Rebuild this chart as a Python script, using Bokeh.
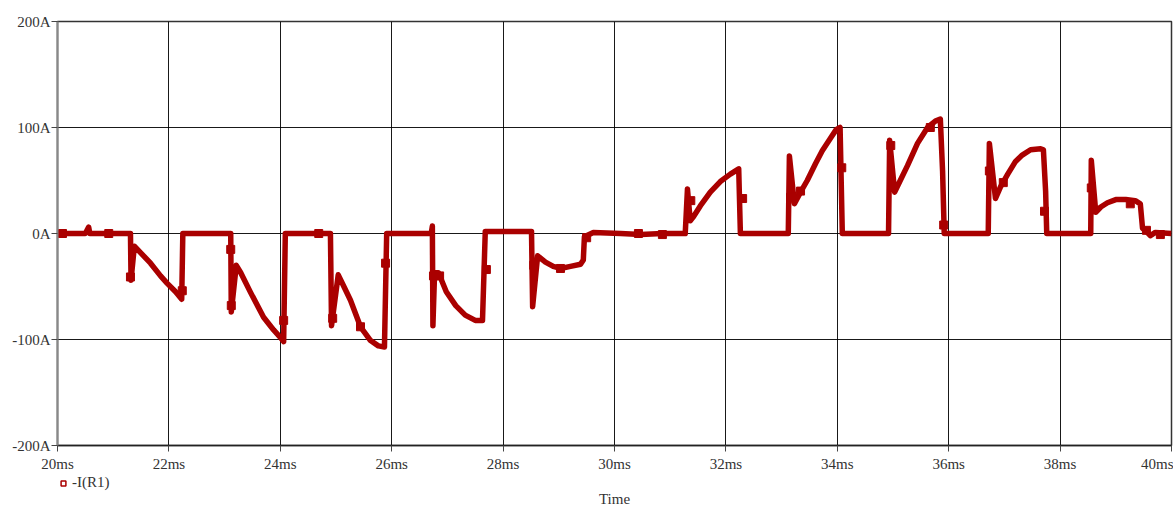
from bokeh.plotting import figure
from bokeh.layouts import column
from bokeh.models import FixedTicker, Range1d, Legend, LegendItem
from bokeh.core.properties import value
from bokeh.embed import file_html
from bokeh.resources import INLINE

# Transient current through R1, time in ms, current in A
t_ms = [
    20.00, 20.50, 20.56, 20.58, 21.31,
    21.32, 21.38, 21.49, 21.67, 21.85, 21.97, 22.12, 22.23, 22.25, 23.11,
    23.12, 23.21, 23.29, 23.47, 23.70, 23.88, 24.00, 24.06, 24.09, 24.90,
    24.92, 25.04, 25.15, 25.26, 25.44, 25.62, 25.76, 25.87, 25.91, 26.71,
    26.73, 26.74, 26.77, 26.84, 26.98, 27.15, 27.32, 27.50, 27.63, 27.68, 28.51,
    28.53, 28.62, 28.76, 28.90, 29.03, 29.21, 29.39, 29.44, 29.46, 29.62,
    30.11, 30.47, 30.86, 31.27,
    31.31, 31.36, 31.42, 31.54, 31.72, 31.90, 32.08, 32.23, 32.26, 33.12,
    33.14, 33.23, 33.34, 33.46, 33.61, 33.73, 33.88, 33.98, 34.05, 34.09, 34.92,
    34.94, 35.03, 35.13, 35.26, 35.44, 35.62, 35.76, 35.85, 35.89, 35.92, 36.71,
    36.73, 36.84, 36.93, 37.06, 37.20, 37.32, 37.47, 37.65, 37.70, 37.74, 37.76, 38.55,
    38.56, 38.64, 38.73, 38.85, 39.00, 39.18, 39.35, 39.44, 39.48, 39.53, 39.62, 39.71, 40.00,
]
i_amp = [
    0, 0, 6, 0, 0,
    -44, -12, -18, -28, -40, -47, -55, -62, 0, 0,
    -74, -30, -37, -56, -79, -91, -98, -102, 0, 0,
    -87, -39, -51, -63, -88, -101, -106, -107, 0, 0,
    7, -87, -37, -37, -55, -68, -77, -82, -82, 2, 2,
    -69, -21, -27, -31, -33, -31, -29, -25, -3, 1,
    0, -1, 0, 0,
    42, 12, 16, 26, 39, 49, 56, 61, 0, 0,
    73, 28, 39, 50, 66, 78, 90, 98, 100, 0, 0,
    88, 39, 50, 64, 85, 100, 106, 108, 59, 0, 0,
    85, 33, 44, 56, 68, 74, 79, 80, 79, 40, 0, 0,
    69, 20, 25, 29, 32, 32, 31, 28, 5, 3, -2, 1, 0,
]

# Sample markers drawn along the trace
marker_ms = [20.09, 20.92, 21.31, 22.24, 23.11, 23.12, 24.06, 24.69, 24.94, 25.44,
             25.89, 26.75, 26.86, 27.70, 28.55, 29.03, 29.50, 30.43, 30.86, 31.37,
             32.30, 33.16, 33.34, 34.08, 34.96, 35.67, 35.91, 36.73, 36.98, 37.72,
             38.56, 39.26, 39.55, 39.80]
marker_a = [0, 0, -41, -54, -15, -68, -82, 0, -80, -88,
            -28, -40, -40, -34, -30, -33, -4, 0, -1, 31,
            33, 34, 40, 62, 83, 100, 8, 59, 48, 21,
            43, 28, 3, -1]

x_ticks = [20, 22, 24, 26, 28, 30, 32, 34, 36, 38, 40]
x_tick_labels = ["20ms", "22ms", "24ms", "26ms", "28ms", "30ms",
                 "32ms", "34ms", "36ms", "38ms", "40ms"]
y_ticks = [-200, -100, 0, 100, 200]
y_tick_labels = ["-200A", "-100A", "0A", "100A", "200A"]

series_name = "-I(R1)"
x_title = "Time"

FONT = "Liberation Serif"
FONT_SIZE = "15px"
TRACE = "#aa0000"
TEXT = "#333333"

W = 1173
MAIN_H = 474
FOOT_H = 32

p = figure(width=W, height=MAIN_H, output_backend="svg", toolbar_location=None,
           x_range=Range1d(x_ticks[0], x_ticks[-1]),
           y_range=Range1d(y_ticks[0], y_ticks[-1]),
           min_border_left=57, min_border_right=2, min_border_top=21,
           min_border_bottom=28)
p.background_fill_color = "white"
p.border_fill_color = "white"
p.outline_line_color = "#333333"
p.outline_line_width = 1.5

# axes
p.xaxis.ticker = FixedTicker(ticks=x_ticks)
p.xaxis.major_label_overrides = dict(zip(x_ticks, x_tick_labels))
p.yaxis.ticker = FixedTicker(ticks=y_ticks)
p.yaxis.major_label_overrides = dict(zip(y_ticks, y_tick_labels))
for ax in (p.xaxis, p.yaxis):
    ax.major_label_text_font = FONT
    ax.major_label_text_font_size = FONT_SIZE
    ax.major_label_text_color = TEXT
    ax.major_tick_in = 0
    ax.major_tick_out = 6
    ax.major_tick_line_color = "#444444"
    ax.minor_tick_line_color = None
p.xaxis.major_label_standoff = 4
p.yaxis.major_label_standoff = 1
p.yaxis.axis_line_color = "#888888"
p.yaxis.axis_line_width = 2
p.xaxis.axis_line_color = "#222222"
p.xaxis.axis_line_width = 1.5

# grid
p.xgrid.ticker = FixedTicker(ticks=x_ticks)
p.ygrid.ticker = FixedTicker(ticks=y_ticks)
for g in (p.xgrid, p.ygrid):
    g.grid_line_color = "black"
    g.grid_line_width = 1
    g.grid_line_alpha = 0.9

# trace and its markers
p.line(t_ms, i_amp, line_color=TRACE, line_width=5.5, line_join="round")
p.scatter(marker_ms, marker_a, marker="square", size=8,
          fill_color=TRACE, line_color=TRACE)

# footer strip: legend entry and the time-axis title
foot = figure(width=W, height=FOOT_H, output_backend="svg", toolbar_location=None,
              x_range=p.x_range, y_range=Range1d(0, FOOT_H),
              x_axis_type=None, y_axis_type=None,
              min_border_left=57, min_border_right=2, min_border_top=0,
              min_border_bottom=0)
foot.outline_line_color = None
foot.background_fill_color = "white"
foot.border_fill_color = "white"
foot.grid.visible = False

# legend key glyph: a single hollow square kept below the strip's visible range
key = foot.scatter([x_ticks[0]], [-FOOT_H], marker="square", size=6,
                   fill_color="white", line_color=TRACE, line_width=1.5)
legend = Legend(items=[LegendItem(label=series_name, renderers=[key])],
                location=(0, 15), orientation="horizontal",
                glyph_width=12, glyph_height=16, label_height=16,
                padding=0, margin=0, label_standoff=3,
                label_text_font=FONT, label_text_font_size=FONT_SIZE,
                label_text_color=TEXT, border_line_color=None,
                background_fill_alpha=0)
foot.add_layout(legend, "center")

foot.text(x=[(x_ticks[0] + x_ticks[-1]) / 2], y=[8], text=[x_title],
          text_align="center", text_baseline="middle",
          text_font=value(FONT), text_font_size=FONT_SIZE, text_color=TEXT)

layout = column(p, foot, spacing=0)
open("out.html", "w").write(file_html(layout, INLINE))
